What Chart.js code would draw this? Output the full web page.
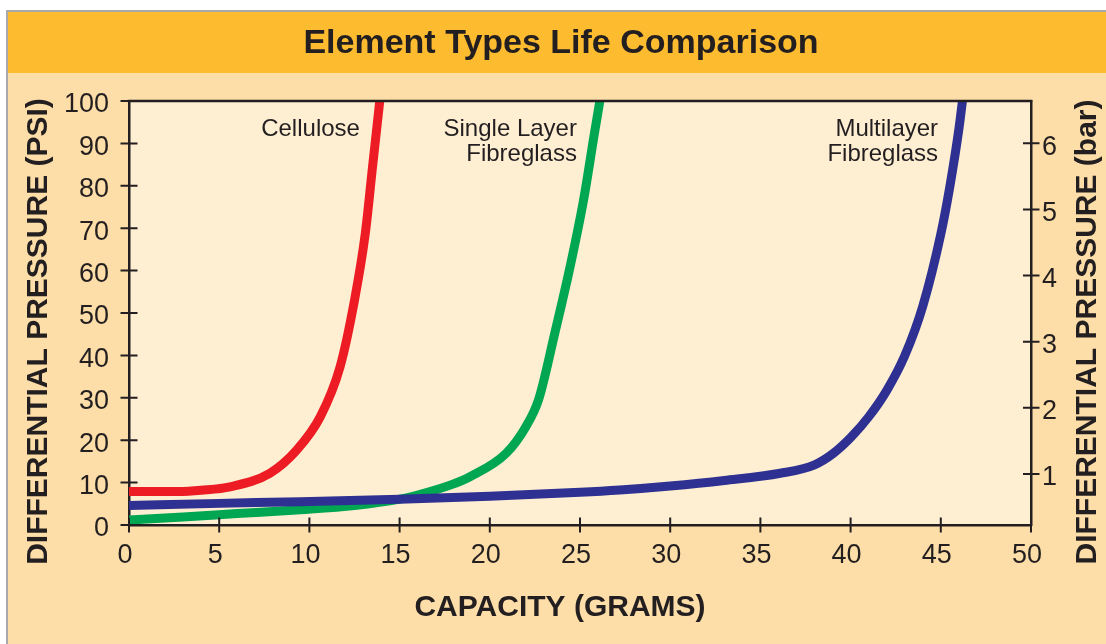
<!DOCTYPE html>
<html>
<head>
<meta charset="utf-8">
<script src="https://cdn.jsdelivr.net/npm/chart.js@4.4.0/dist/chart.umd.min.js"></script>
<style>
html,body{margin:0;padding:0;background:#fff;overflow:hidden}
#wrap{width:1106px;height:644px;position:relative}
</style>
</head>
<body>
<div id="wrap"><canvas id="c" width="1106" height="644"></canvas></div>
<script>
// ---- data ----
const capacityTicks = [0, 5, 10, 15, 20, 25, 30, 35, 40, 45, 50];
const psiTicks = [0, 10, 20, 30, 40, 50, 60, 70, 80, 90, 100];
const barTicks = [1, 2, 3, 4, 5, 6];

const celluloseX = [0, 2.8, 4, 5.6, 7.8, 9.3, 10.6, 11.7, 12.5, 13.1, 13.5, 13.9];
const celluloseY = [7.9, 7.9, 8.2, 9.0, 12.2, 17.7, 25.5, 37.3, 53, 68.8, 84.5, 100];

const singleX = [0, 3, 6, 9.5, 12.5, 15, 16.1, 17.8, 18.9, 20.9, 22.0, 22.7, 23.6, 24.45, 25.2, 25.8, 26.1];
const singleY = [1.2, 1.9, 2.7, 3.6, 4.6, 6.1, 7.2, 9.4, 11.4, 16.9, 23.2, 29.5, 45.2, 60.9, 76.7, 92.4, 100];

const multiX = [0, 5, 9.5, 15, 20, 25, 27.2, 30, 33, 36.1, 38, 39.04, 40, 41, 42, 43, 44, 45, 45.5, 46, 46.2];
const multiY = [4.6, 5.1, 5.5, 6.1, 6.8, 7.7, 8.25, 9.2, 10.5, 12.2, 14.2, 16.9, 20.6, 25.5, 31.7, 39.9, 51.6, 68.6, 79.8, 93.3, 100];

const seriesNames = ['Cellulose', 'Single Layer Fibreglass', 'Multilayer Fibreglass'];
const titleText = 'Element Types Life Comparison';
const xTitle = 'CAPACITY (GRAMS)';
const yTitle = 'DIFFERENTIAL PRESSURE (PSI)';
const y2Title = 'DIFFERENTIAL PRESSURE (bar)';

const toPts = (xs, ys) => xs.map((x, i) => ({x: x, y: ys[i]}));

const INK = '#231F20';
const FAM = '"Liberation Sans", Arial, Helvetica, sans-serif';
const TICK_FONT = {family: FAM, size: 27};

const decor = {
  id: 'decor',
  beforeDraw(chart) {
    const ctx = chart.ctx, W = chart.width, H = chart.height, a = chart.chartArea;
    ctx.save();
    ctx.fillStyle = '#ffffff';
    ctx.fillRect(0, 0, W, H);
    ctx.fillStyle = '#FEDEA8';
    ctx.fillRect(8, 12, W - 8, H - 12);
    ctx.fillStyle = '#FDBB30';
    ctx.fillRect(8, 12, W - 8, 61);
    ctx.strokeStyle = '#A7A9AC';
    ctx.lineWidth = 2;
    ctx.beginPath();
    ctx.moveTo(7, H); ctx.lineTo(7, 11); ctx.lineTo(W, 11);
    ctx.stroke();
    ctx.fillStyle = '#FEEFD3';
    ctx.fillRect(a.left, a.top, a.right - a.left, a.bottom - a.top);
    ctx.restore();
  },
  afterDraw(chart) {
    const ctx = chart.ctx, a = chart.chartArea;
    const sx = chart.scales.x, sy = chart.scales.y, sy2 = chart.scales.y2;
    ctx.save();
    // top frame line
    ctx.strokeStyle = INK;
    ctx.lineWidth = 2.5;
    ctx.beginPath();
    ctx.moveTo(a.left - 1.25, a.top);
    ctx.lineTo(a.right + 1.25, a.top);
    ctx.stroke();
    // straddling tick marks
    ctx.lineWidth = 2;
    ctx.beginPath();
    sx.ticks.forEach(t => {
      const p = sx.getPixelForValue(t.value);
      ctx.moveTo(p, a.bottom - 7.5); ctx.lineTo(p, a.bottom + 7.5);
    });
    sy.ticks.forEach(t => {
      const p = sy.getPixelForValue(t.value);
      ctx.moveTo(a.left - 8.5, p); ctx.lineTo(a.left + 8.5, p);
    });
    sy2.ticks.forEach(t => {
      const p = sy2.getPixelForValue(t.value);
      ctx.moveTo(a.right - 8, p); ctx.lineTo(a.right + 8.5, p);
    });
    ctx.stroke();

    // title
    ctx.fillStyle = INK;
    ctx.textAlign = 'center';
    ctx.textBaseline = 'alphabetic';
    ctx.font = 'bold 34px ' + FAM;
    ctx.fillText(titleText, 561, 53);

    // axis titles
    ctx.font = 'bold 30px ' + FAM;
    ctx.fillText(xTitle, 560, 616);
    ctx.save();
    ctx.translate(38.5, 331.5);
    ctx.rotate(-Math.PI / 2);
    ctx.textBaseline = 'middle';
    ctx.fillText(yTitle, 0, 0);
    ctx.restore();
    ctx.save();
    ctx.translate(1088, 332);
    ctx.rotate(-Math.PI / 2);
    ctx.textBaseline = 'middle';
    ctx.fillText(y2Title, 0, 0);
    ctx.restore();

    // series labels (right-aligned, anchored in data space)
    ctx.font = '24px ' + FAM;
    ctx.textAlign = 'right';
    const l1 = sy.getPixelForValue(91.7), l2 = sy.getPixelForValue(85.8);
    ctx.fillText('Cellulose', sx.getPixelForValue(12.8), l1);
    ctx.fillText('Single Layer', sx.getPixelForValue(24.83), l1);
    ctx.fillText('Fibreglass', sx.getPixelForValue(24.83), l2);
    ctx.fillText('Multilayer', sx.getPixelForValue(44.85), l1);
    ctx.fillText('Fibreglass', sx.getPixelForValue(44.85), l2);
    ctx.restore();
  }
};

const lineDs = (label, xs, ys, color) => ({
  label: label,
  data: toPts(xs, ys),
  borderColor: color,
  backgroundColor: color,
  borderWidth: 9,
  pointRadius: 0,
  fill: false,
  cubicInterpolationMode: 'monotone',
  clip: 0
});

new Chart(document.getElementById('c'), {
  type: 'line',
  data: {
    datasets: [
      lineDs(seriesNames[2], multiX, multiY, '#2E3192'),
      lineDs(seriesNames[0], celluloseX, celluloseY, '#ED1C24'),
      lineDs(seriesNames[1], singleX, singleY, '#00A651')
    ]
  },
  options: {
    responsive: false,
    animation: false,
    devicePixelRatio: 1,
    layout: {padding: {top: 101, left: 0, right: 0, bottom: 0}},
    plugins: {legend: {display: false}, tooltip: {enabled: false}, title: {display: false}},
    scales: {
      x: {
        type: 'linear', min: 0, max: 50, z: 1,
        afterBuildTicks: s => { s.ticks = capacityTicks.map(v => ({value: v})); },
        afterFit: s => { s.height = 119; },
        ticks: {font: TICK_FONT, color: INK, padding: 14, labelOffset: -4, maxRotation: 0, autoSkip: false},
        grid: {display: false, drawTicks: false},
        border: {display: true, color: INK, width: 2.5}
      },
      y: {
        type: 'linear', position: 'left', min: 0, max: 100, z: 1,
        afterBuildTicks: s => { s.ticks = psiTicks.map(v => ({value: v})); },
        afterFit: s => { s.width = 129; },
        ticks: {font: TICK_FONT, color: INK, padding: 20, labelOffset: 4, autoSkip: false},
        grid: {display: false, drawTicks: false},
        border: {display: true, color: INK, width: 2.5}
      },
      y2: {
        type: 'linear', position: 'right', min: 0.229, max: 6.64, z: 1,
        afterBuildTicks: s => { s.ticks = barTicks.map(v => ({value: v})); },
        afterFit: s => { s.width = 75; },
        ticks: {font: TICK_FONT, color: INK, padding: 11, labelOffset: 4, autoSkip: false},
        grid: {display: false, drawTicks: false},
        border: {display: true, color: INK, width: 2.5}
      }
    }
  },
  plugins: [decor]
});
</script>
</body>
</html>
